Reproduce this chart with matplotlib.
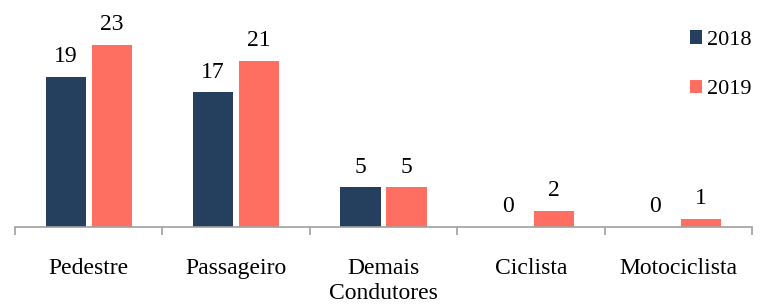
import matplotlib
matplotlib.use("Agg")
import matplotlib.pyplot as plt
import numpy as np

categorias = ["Pedestre", "Passageiro", "Demais\nCondutores", "Ciclista", "Motociclista"]
anos = ["2018", "2019"]
valores_2018 = [19, 17, 5, 0, 0]
valores_2019 = [23, 21, 5, 2, 1]

cor_2018 = "#253f5f"
cor_2019 = "#ff6f61"

plt.rcParams["font.family"] = ["Liberation Serif", "DejaVu Serif"]

fig = plt.figure(figsize=(7.68, 3.04), dpi=100)
ax = fig.add_axes([15 / 768, (304 - 227) / 304, (752 - 15) / 768, (227 - 29) / 304])

x = np.arange(len(categorias))
w = 0.272
off = 0.156
b1 = ax.bar(x - off, valores_2018, w, color=cor_2018, label=anos[0])
b2 = ax.bar(x + off, valores_2019, w, color=cor_2019, label=anos[1])

for bars in (b1, b2):
    for r in bars:
        ax.annotate(f"{int(r.get_height())}", (r.get_x() + r.get_width() / 2, r.get_height()),
                    xytext=(0, 7), textcoords="offset points", ha="center", va="bottom",
                    fontsize=17, color="black", annotation_clip=False)

ax.set_xlim(-0.5, len(categorias) - 0.5)
ax.set_ylim(0, 25)
ax.set_yticks([])
for s in ["top", "right", "left"]:
    ax.spines[s].set_visible(False)
ax.spines["bottom"].set_color("#a0a0a0")
ax.spines["bottom"].set_linewidth(1.2)

ax.set_xticks(x)
ax.set_xticklabels(categorias, fontsize=17, linespacing=1.25)
ax.tick_params(axis="x", which="major", length=0, pad=22)
ax.set_xticks(np.arange(-0.5, len(categorias), 1.0), minor=True)
ax.tick_params(axis="x", which="minor", length=6, color="#a0a0a0", width=1.2)

leg = ax.legend(loc="upper right", bbox_to_anchor=(1.026, 1.095), frameon=False, fontsize=16,
                handlelength=0.55, handleheight=0.55, handletextpad=0.2, labelspacing=1.35)

fig.savefig("out.png", dpi=100)
